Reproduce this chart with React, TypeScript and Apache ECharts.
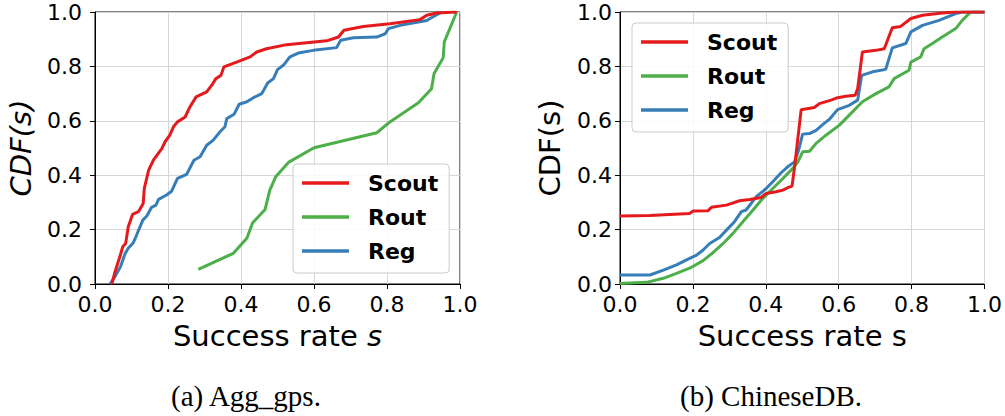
import React, { useEffect, useRef } from "react";
import * as echarts from "echarts";

// Panel (a) Agg_gps: [success rate s, CDF(s)]
const aggScout: number[][] = [
  [0.046, 0], [0.055, 0.045], [0.068, 0.1], [0.076, 0.137], [0.084, 0.149], [0.091, 0.21],
  [0.103, 0.256], [0.119, 0.266], [0.132, 0.296], [0.135, 0.351], [0.147, 0.419], [0.16, 0.455],
  [0.183, 0.498], [0.192, 0.523], [0.205, 0.547], [0.215, 0.578], [0.226, 0.596], [0.247, 0.614],
  [0.26, 0.651], [0.277, 0.688], [0.306, 0.706], [0.32, 0.731], [0.331, 0.755], [0.345, 0.767],
  [0.353, 0.798], [0.388, 0.816], [0.425, 0.835], [0.443, 0.853], [0.47, 0.865], [0.525, 0.88],
  [0.635, 0.894], [0.667, 0.908], [0.682, 0.933], [0.735, 0.947], [0.808, 0.957], [0.89, 0.972],
  [0.909, 0.988], [0.936, 0.996], [0.991, 1.0],
];
const aggRout: number[][] = [
  [0.283, 0.054], [0.379, 0.113], [0.416, 0.168], [0.432, 0.225], [0.466, 0.274], [0.479, 0.345],
  [0.495, 0.394], [0.53, 0.447], [0.6, 0.501], [0.772, 0.556], [0.808, 0.596], [0.886, 0.666],
  [0.922, 0.718], [0.929, 0.774], [0.954, 0.832], [0.957, 0.89], [0.991, 1.0],
];
const aggReg: number[][] = [
  [0.041, 0], [0.055, 0.027], [0.07, 0.064], [0.082, 0.11], [0.091, 0.131], [0.105, 0.152],
  [0.114, 0.18], [0.131, 0.235], [0.142, 0.25], [0.155, 0.282], [0.167, 0.29], [0.174, 0.311],
  [0.196, 0.327], [0.21, 0.341], [0.226, 0.388], [0.251, 0.403], [0.271, 0.455], [0.288, 0.468],
  [0.306, 0.51], [0.324, 0.529], [0.342, 0.559], [0.356, 0.578], [0.361, 0.608], [0.381, 0.624],
  [0.395, 0.661], [0.416, 0.67], [0.434, 0.685], [0.457, 0.7], [0.473, 0.739], [0.489, 0.755],
  [0.5, 0.788], [0.516, 0.804], [0.534, 0.835], [0.557, 0.849], [0.598, 0.859], [0.662, 0.869],
  [0.673, 0.896], [0.708, 0.905], [0.772, 0.908], [0.795, 0.92], [0.804, 0.939], [0.836, 0.951],
  [0.909, 0.969], [0.918, 0.976], [0.95, 1.0],
];

// Panel (b) ChineseDB
const cdbScout: number[][] = [
  [0, 0.25], [0.082, 0.252], [0.191, 0.259], [0.2, 0.268], [0.241, 0.269], [0.251, 0.282],
  [0.292, 0.29], [0.328, 0.306], [0.356, 0.311], [0.387, 0.318], [0.401, 0.333], [0.428, 0.339],
  [0.447, 0.345], [0.46, 0.354], [0.472, 0.36], [0.479, 0.431], [0.497, 0.641], [0.533, 0.649],
  [0.547, 0.663], [0.579, 0.676], [0.597, 0.685], [0.62, 0.69], [0.645, 0.694], [0.652, 0.718],
  [0.665, 0.853], [0.702, 0.859], [0.725, 0.865], [0.747, 0.942], [0.77, 0.947], [0.798, 0.976],
  [0.83, 0.988], [0.884, 0.996], [0.921, 1.0], [1.0, 1.0],
];
const cdbRout: number[][] = [
  [0, 0.002], [0.073, 0.006], [0.119, 0.021], [0.155, 0.039], [0.191, 0.058], [0.228, 0.086],
  [0.255, 0.115], [0.283, 0.149], [0.31, 0.186], [0.337, 0.229], [0.365, 0.272], [0.392, 0.315],
  [0.419, 0.351], [0.447, 0.388], [0.474, 0.425], [0.488, 0.449], [0.501, 0.486], [0.52, 0.488],
  [0.538, 0.517], [0.565, 0.547], [0.602, 0.584], [0.629, 0.621], [0.665, 0.67], [0.702, 0.7],
  [0.738, 0.725], [0.752, 0.755], [0.793, 0.786], [0.798, 0.816], [0.825, 0.835], [0.834, 0.865],
  [0.857, 0.884], [0.884, 0.908], [0.921, 0.939], [0.939, 0.969], [0.962, 1.0], [1.0, 1.0],
];
const cdbReg: number[][] = [
  [0, 0.033], [0.082, 0.033], [0.119, 0.051], [0.155, 0.07], [0.191, 0.094], [0.21, 0.106],
  [0.228, 0.125], [0.246, 0.149], [0.273, 0.171], [0.292, 0.198], [0.314, 0.229], [0.333, 0.266],
  [0.346, 0.272], [0.374, 0.321], [0.401, 0.351], [0.419, 0.376], [0.442, 0.409], [0.46, 0.431],
  [0.479, 0.449], [0.49, 0.492], [0.501, 0.551], [0.52, 0.553], [0.538, 0.565], [0.556, 0.586],
  [0.574, 0.605], [0.597, 0.641], [0.629, 0.657], [0.652, 0.676], [0.663, 0.767], [0.693, 0.78],
  [0.729, 0.789], [0.747, 0.868], [0.784, 0.884], [0.798, 0.927], [0.83, 0.951], [0.875, 0.969],
  [0.921, 0.994], [0.939, 1.0], [1.0, 1.0],
];

const seriesNames = ["Scout", "Rout", "Reg"];
const seriesColors = ["#e41a1c", "#4daf4a", "#377eb8"];
const captions = ["(a) Agg_gps.", "(b) ChineseDB."];
const xTitle = ["Success rate {i|s}", "Success rate s"];
const yTitle = "CDF(s)";

const FONT = "DejaVu Sans";

function makeXAxis(gridIndex: number) {
  return {
    type: "value",
    gridIndex,
    min: 0,
    max: 1,
    interval: 0.2,
    name: xTitle[gridIndex],
    nameLocation: "middle",
    nameGap: 37,
    nameTextStyle: {
      fontFamily: FONT,
      fontSize: 29,
      color: "#000",
      rich: { i: { fontFamily: FONT, fontSize: 29, fontStyle: "italic", color: "#000" } },
    },
    axisLine: { show: true, lineStyle: { color: "#000", width: 1 } },
    axisTick: { show: true, inside: false, length: 5, lineStyle: { color: "#000", width: 1 } },
    axisLabel: {
      fontFamily: FONT,
      fontSize: 22,
      color: "#000",
      margin: 9,
      formatter: (v: number) => v.toFixed(1),
    },
    splitLine: { show: true, lineStyle: { color: "#d6d6d6", width: 1 } },
  };
}

function makeYAxis(gridIndex: number) {
  return {
    type: "value",
    gridIndex,
    min: 0,
    max: 1,
    interval: 0.2,
    name: yTitle,
    nameLocation: "middle",
    nameGap: gridIndex === 0 ? 60 : 56,
    nameRotate: 90,
    nameTextStyle: {
      fontFamily: FONT,
      fontSize: 29,
      color: "#000",
      fontStyle: gridIndex === 0 ? "italic" : "normal",
    },
    axisLine: { show: true, lineStyle: { color: "#000", width: 1 } },
    axisTick: { show: true, inside: false, length: 5, lineStyle: { color: "#000", width: 1 } },
    axisLabel: {
      fontFamily: FONT,
      fontSize: 22,
      color: "#000",
      margin: gridIndex === 0 ? 13 : 8,
      formatter: (v: number) => v.toFixed(1),
    },
    splitLine: { show: true, lineStyle: { color: "#d6d6d6", width: 1 } },
  };
}

function makeLegend(left: number, top: number) {
  return {
    orient: "vertical",
    left,
    top,
    data: seriesNames.map((n) => ({ name: n, icon: "rect" })),
    itemWidth: 47,
    itemHeight: 3.5,
    itemGap: 12,
    padding: [8, 11, 11, 9],
    backgroundColor: "rgba(255,255,255,0.85)",
    borderColor: "#cccccc",
    borderWidth: 1,
    borderRadius: 4,
    selectedMode: false,
    itemStyle: { borderWidth: 0 },
    textStyle: {
      fontFamily: FONT,
      fontSize: 22,
      fontWeight: "bold",
      color: "#000",
      lineHeight: 22,
      padding: [0, 0, 0, 14],
    },
  };
}

export default function App() {
  const ref = useRef<HTMLDivElement>(null);
  useEffect(() => {
    if (!ref.current) return;
    const chart = echarts.init(ref.current, undefined, { renderer: "svg" });
    const panels = [
      [aggScout, aggRout, aggReg],
      [cdbScout, cdbRout, cdbReg],
    ];
    const series: any[] = [];
    panels.forEach((p, gi) => {
      p.forEach((data, si) => {
        series.push({
          type: "line",
          name: seriesNames[si],
          xAxisIndex: gi,
          yAxisIndex: gi,
          data,
          symbol: "none",
          showSymbol: false,
          smooth: false,
          clip: true,
          lineStyle: { color: seriesColors[si], width: 3 },
          itemStyle: { color: seriesColors[si] },
          z: si === 0 ? 4 : si === 2 ? 3 : 2,
        });
      });
    });
    chart.setOption({
      animation: false,
      backgroundColor: "#fff",
      grid: [
        { left: 95, top: 12, width: 365, height: 272, show: true, borderColor: "#000", borderWidth: 1, backgroundColor: "transparent" },
        { left: 620, top: 12, width: 366, height: 272, show: true, borderColor: "#000", borderWidth: 1, backgroundColor: "transparent" },
      ],
      xAxis: [makeXAxis(0), makeXAxis(1)],
      yAxis: [makeYAxis(0), makeYAxis(1)],
      legend: [makeLegend(293, 164), makeLegend(632, 23)],
      series,
      graphic: [
        {
          type: "text",
          x: 246,
          y: 396,
          style: {
            text: captions[0],
            fontFamily: "Liberation Serif",
            fontSize: 29,
            fill: "#000",
            align: "center",
            verticalAlign: "middle",
          },
        },
        {
          type: "text",
          x: 771,
          y: 396,
          style: {
            text: captions[1],
            fontFamily: "Liberation Serif",
            fontSize: 29,
            fill: "#000",
            align: "center",
            verticalAlign: "middle",
          },
        },
      ],
    });
    return () => chart.dispose();
  }, []);
  return (
    <div
      ref={ref}
      style={{ position: "fixed", left: 0, top: 0, width: 1005, height: 416 }}
    />
  );
}
